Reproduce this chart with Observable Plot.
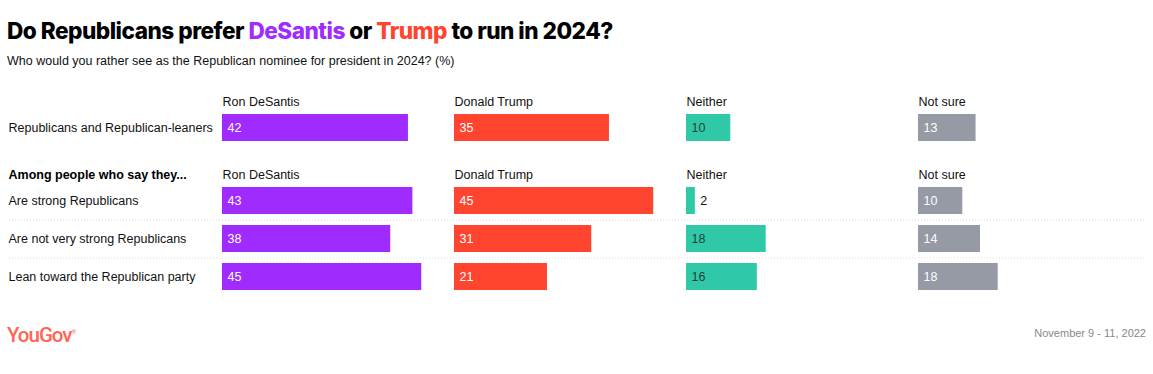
<!DOCTYPE html>
<html><head><meta charset="utf-8">
<script src="https://cdn.jsdelivr.net/npm/d3@7"></script>
<script src="https://cdn.jsdelivr.net/npm/@observablehq/plot@0.6"></script>
<style>
body{margin:0;background:#fff;font-family:"Liberation Sans",Arial,sans-serif;color:#111;}
#wrap{position:relative;width:1153px;height:374px;overflow:hidden;}
.abs{position:absolute;}
#title{left:7px;top:19px;font-family:Inter,sans-serif;font-weight:800;font-size:22.6px;line-height:24px;letter-spacing:-0.5px;white-space:nowrap;color:#000;}
#sub{left:7px;top:54px;font-size:12.5px;line-height:14px;white-space:nowrap;}
#c1{left:0;top:86px;}
#c2{left:0;top:146px;}
#logo{left:7px;top:320px;font-family:Roboto,sans-serif;font-weight:500;font-size:20.5px;line-height:24px;color:#ff6455;letter-spacing:-1px;}
#date{right:7px;top:326px;font-size:11px;line-height:14px;color:#888;}
</style></head><body>
<div id="wrap">
<div id="title" class="abs">Do Republicans prefer <span style="color:#a02bff">DeSantis</span> or <span style="color:#ff4530">Trump</span> to run in 2024?</div>
<div id="sub" class="abs">Who would you rather see as the Republican nominee for president in 2024? (%)</div>
<div id="c1" class="abs"></div>
<div id="c2" class="abs"></div>
<div id="logo" class="abs">YouGov<sup style="font-size:6px">®</sup></div>
<div id="date" class="abs">November 9 - 11, 2022</div>
</div>
<script>
// ---- data ----
const options = ["Ron DeSantis", "Donald Trump", "Neither", "Not sure"];
const groupsAll = ["Republicans and Republican-leaners"];
const groupsStrength = ["Are strong Republicans", "Are not very strong Republicans", "Lean toward the Republican party"];
const sectionHeader = "Among people who say they...";
const desantis = [42, 43, 38, 45];
const trump = [35, 45, 31, 21];
const neither = [10, 2, 18, 16];
const notSure = [13, 10, 14, 18];
const colors = ["#a02bff", "#ff4530", "#30c9a7", "#969aa4"];
const labelColors = ["#ffffff", "#ffffff", "#24403b", "#ffffff"];

const allGroups = groupsAll.concat(groupsStrength);
const series = [desantis, trump, neither, notSure];
const rows = [];
allGroups.forEach((g, i) => options.forEach((o, j) => rows.push({group: g, option: o, value: series[j][i], oi: j})));

const fontFam = '"Liberation Sans", Arial, sans-serif';

function makeChart(groups, header, marginTop, height) {
  const data = rows.filter(d => groups.includes(d.group));
  const marks = [
    Plot.ruleY(groups.slice(1), {fx: () => options[0], y: d => d, dy: -19, insetLeft: -213, insetRight: -690.75, stroke: "#dcdcdc", strokeDasharray: "1,2"}),
    Plot.barX(data, {fx: "option", y: "group", x: "value", fill: "option"}),
    Plot.text(data, {fx: "option", y: "group", x: d => d.value < 5 ? d.value : 0, text: d => String(d.value), textAnchor: "start", dx: 5, fontSize: 12.5,
      fill: d => d.value < 5 ? "#111" : labelColors[d.oi]}),
    Plot.text(options, {fx: d => d, text: d => d, frameAnchor: "top-left", textAnchor: "start", lineAnchor: "middle", dy: -7, fontSize: 12.5, fill: "#111"}),
    Plot.text(groups, {fx: () => options[0], y: d => d, text: d => d, frameAnchor: "left", textAnchor: "start", dx: -214, fontSize: 12.5, fill: "#111"})
  ];
  if (header) marks.push(Plot.text([header], {fx: () => options[0], text: d => d, frameAnchor: "top-left", textAnchor: "start", lineAnchor: "middle", dx: -214, dy: -7, fontSize: 12.5, fontWeight: "bold", fill: "#000"}));
  return Plot.plot({
    width: 1153, height, marginTop, marginBottom: height - marginTop - groups.length * 38, marginLeft: 221, marginRight: 3,
    style: {fontFamily: fontFam, background: "transparent", overflow: "visible"},
    fx: {domain: options, axis: null, paddingInner: 0, paddingOuter: 0},
    x: {domain: [0, 52.4], axis: null},
    y: {domain: groups, axis: null, paddingInner: 0.3, paddingOuter: 0.15},
    color: {domain: options, range: colors},
    marks
  });
}

document.getElementById("c1").appendChild(makeChart(groupsAll, null, 22, 60));
document.getElementById("c2").appendChild(makeChart(groupsStrength, sectionHeader, 35, 155));
</script>
</body></html>
